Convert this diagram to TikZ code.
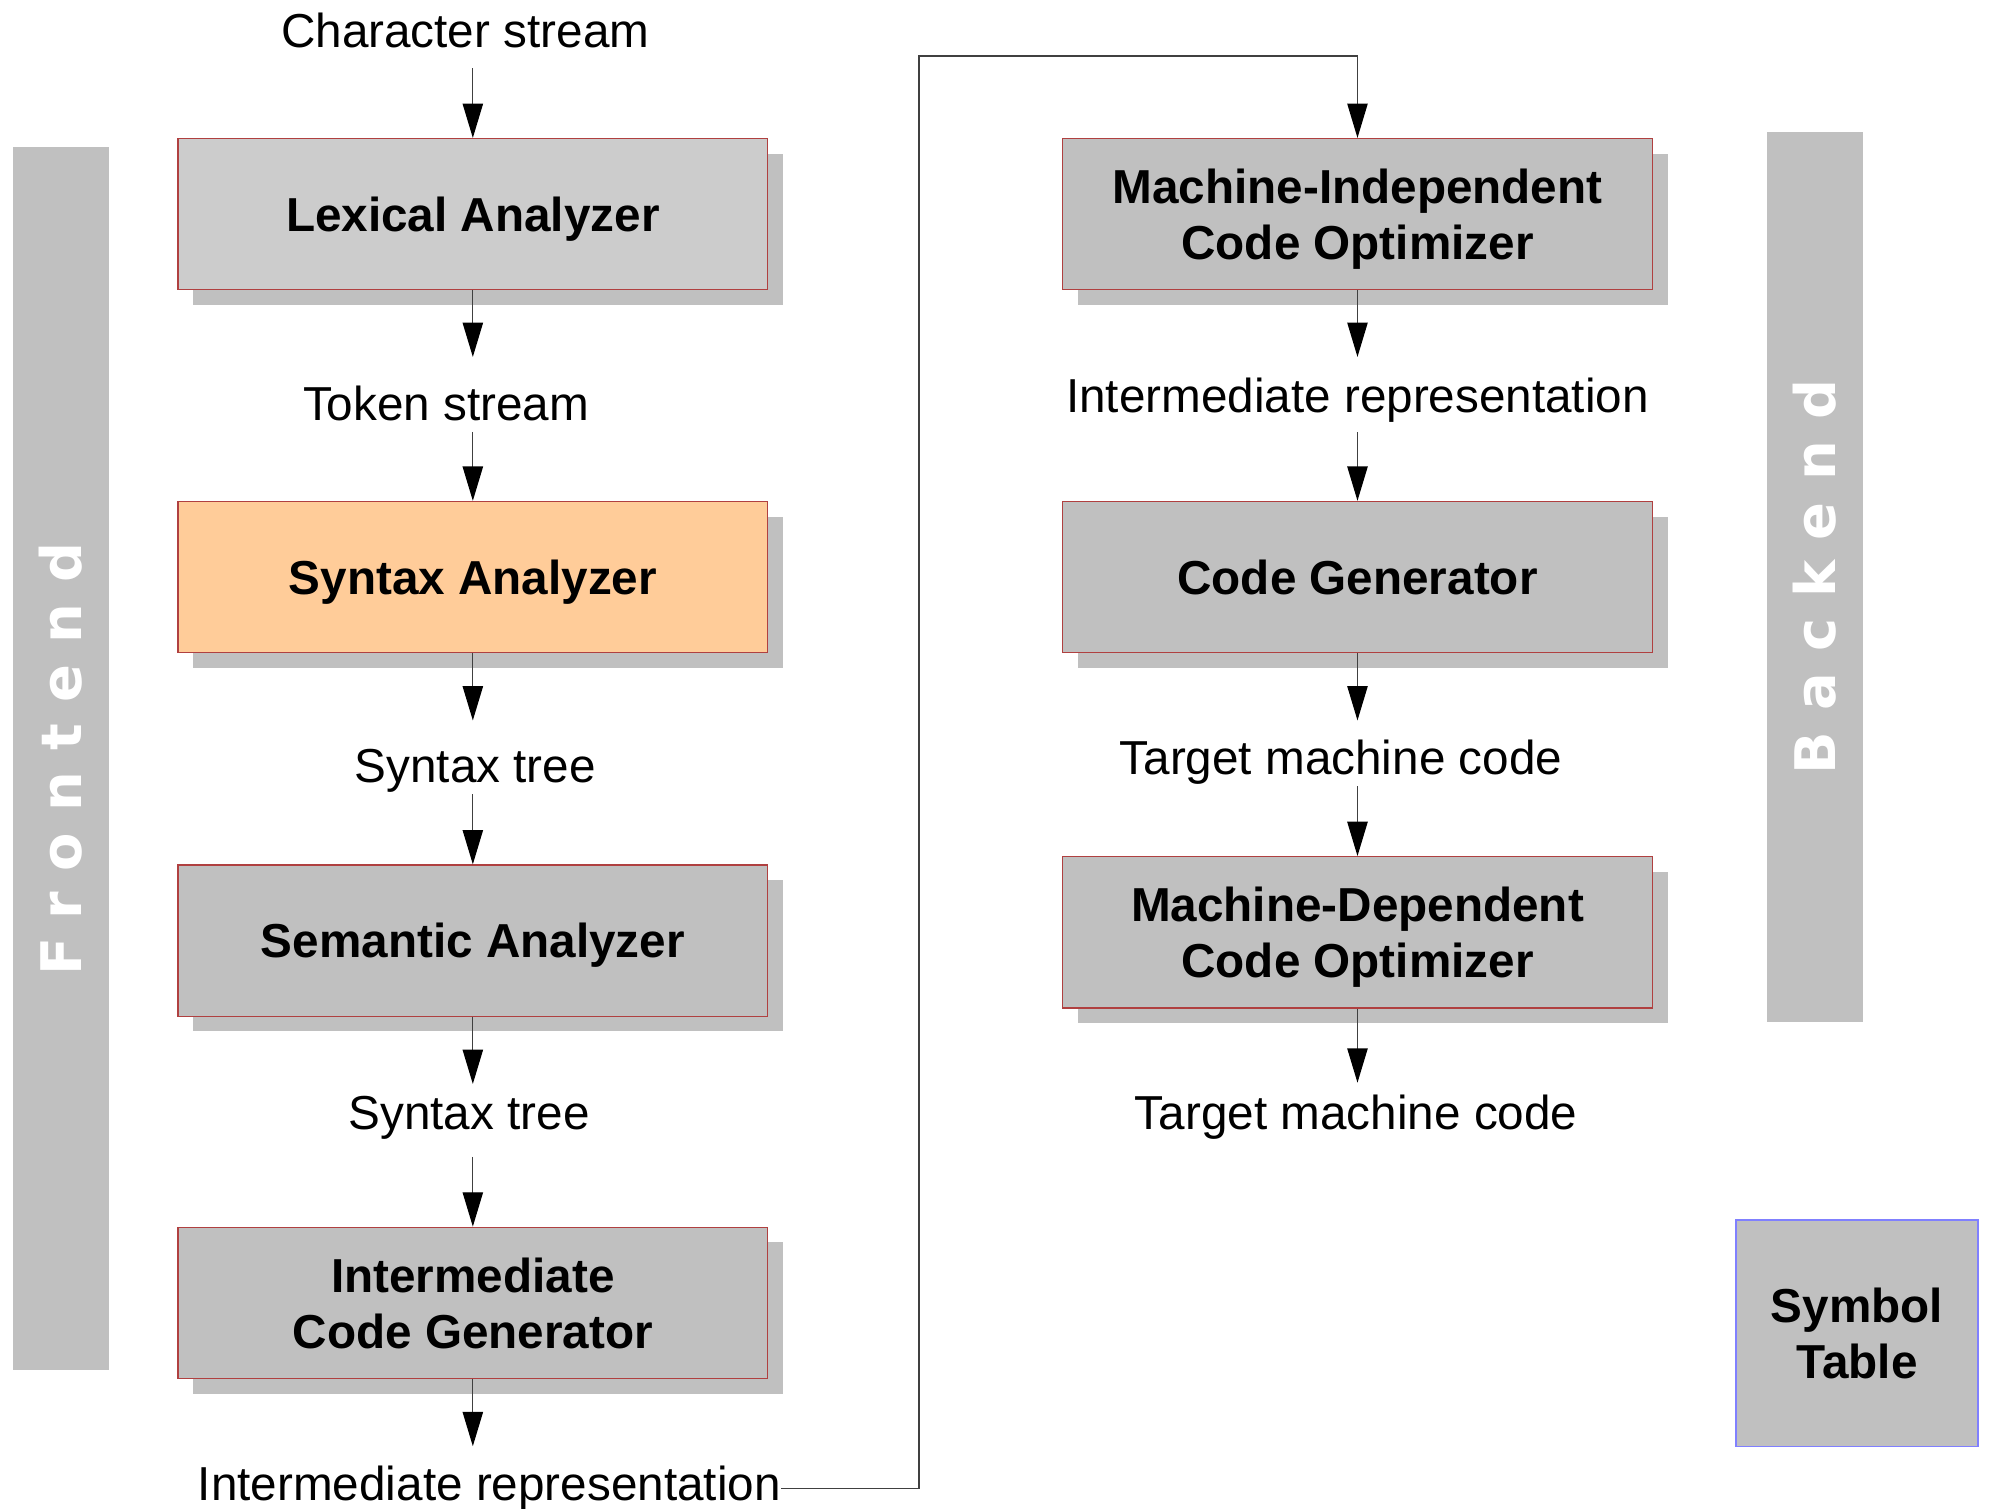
\documentclass[tikz,border=0pt]{standalone}
\usepackage{fontspec}
\setmainfont{Liberation Sans}
\newfontfamily\barfont[LetterSpace=38]{DejaVu Sans}
\usepackage{tikz}
\usetikzlibrary{arrows.meta,shadows}
\definecolor{boxgray}{HTML}{C0C0C0}
\definecolor{lexgray}{HTML}{CCCCCC}
\definecolor{synorange}{HTML}{FFCC99}
\definecolor{boxred}{HTML}{B04040}
\definecolor{symblue}{HTML}{8080FF}

\begin{document}
\begin{tikzpicture}[x=1pt,y=-1pt,>={Triangle[length=27pt,width=16pt,color=black]},
    font=\fontsize{37.5}{44}\selectfont,
    stage/.style={draw=boxred,fill=boxgray,line width=1pt,minimum width=464pt,
      minimum height=119pt,inner sep=0pt,text depth=0pt,align=center,
      font=\fontsize{37.5}{44}\selectfont\bfseries,
      drop shadow={shadow xshift=12pt,shadow yshift=-12pt,fill=boxgray,opacity=1}},
    lbl/.style={inner sep=0pt,text height=28pt,text depth=9pt},
    band/.style={fill=boxgray,text=white,rotate=90,minimum height=76pt,inner sep=0pt,
      font=\barfont\bfseries\fontsize{44}{44}\selectfont},
    flow/.style={->,line width=1pt,draw=black!75}]
    \path[use as bounding box,fill=white] (0,0) rectangle (1568,1187);

    \node[band,minimum width=962pt] (front) at (48,597) {Frontend};
    \node[band,minimum width=700pt] (back) at (1428,454) {Backend};

    \node[lbl] (chr) at (366,28) {Character stream};
    \node[stage,fill=lexgray] (lex) at (372,168.5) {Lexical Analyzer};
    \node[lbl] (tok) at (351,321) {Token stream};
    \node[stage,fill=synorange] (syn) at (372,454) {Syntax Analyzer};
    \node[lbl] (st1) at (374,606) {Syntax tree};
    \node[stage] (sem) at (372,740) {Semantic Analyzer};
    \node[lbl] (st2) at (369,879) {Syntax tree};
    \node[stage] (icg) at (372,1025) {Intermediate\\Code Generator};
    \node[lbl] (ir1) at (385,1171) {Intermediate representation};

    \node[stage] (mico) at (1068,168.5) {Machine-Independent\\Code Optimizer};
    \node[lbl] (ir2) at (1068,315) {Intermediate representation};
    \node[stage] (cg) at (1068,454) {Code Generator};
    \node[lbl] (tmc1) at (1055,600) {Target machine code};
    \node[stage] (mdco) at (1068,733.5) {Machine-Dependent\\Code Optimizer};
    \node[lbl] (tmc2) at (1067,879) {Target machine code};

    \node[draw=symblue,fill=boxgray,line width=1.5pt,minimum width=190pt,minimum height=178pt,
      align=center,font=\fontsize{37.5}{44}\selectfont\bfseries] (sym) at (1461,1049) {Symbol\\Table};

    \coordinate (turn) at (723,44);

    \draw[flow,shorten <=7pt] (lex.north |- chr.south) -- (lex.north);
    \draw[flow,shorten >=21.5pt] (lex.south) -- (lex.south |- tok.north);
    \draw[flow] (syn.north |- tok.south) -- (syn.north);
    \draw[flow,shorten >=20.5pt] (syn.south) -- (syn.south |- st1.north);
    \draw[flow] (sem.north |- st1.south) -- (sem.north);
    \draw[flow,shorten >=7.5pt] (sem.south) -- (sem.south |- st2.north);
    \draw[flow,shorten <=12.5pt] (icg.north |- st2.south) -- (icg.north);
    \draw[flow,shorten >=14.5pt] (icg.south) -- (icg.south |- ir1.north);
    \draw[flow] (ir1.east) -| (turn) -| (mico.north);
    \draw[flow,shorten >=15.5pt] (mico.south) -- (mico.south |- ir2.north);
    \draw[flow,shorten <=6.5pt] (cg.north |- ir2.south) -- (cg.north);
    \draw[flow,shorten >=14.5pt] (cg.south) -- (cg.south |- tmc1.north);
    \draw[flow] (mdco.north |- tmc1.south) -- (mdco.north);
    \draw[flow,shorten >=8.5pt] (mdco.south) -- (mdco.south |- tmc2.north);
  \end{tikzpicture}
\end{document}
